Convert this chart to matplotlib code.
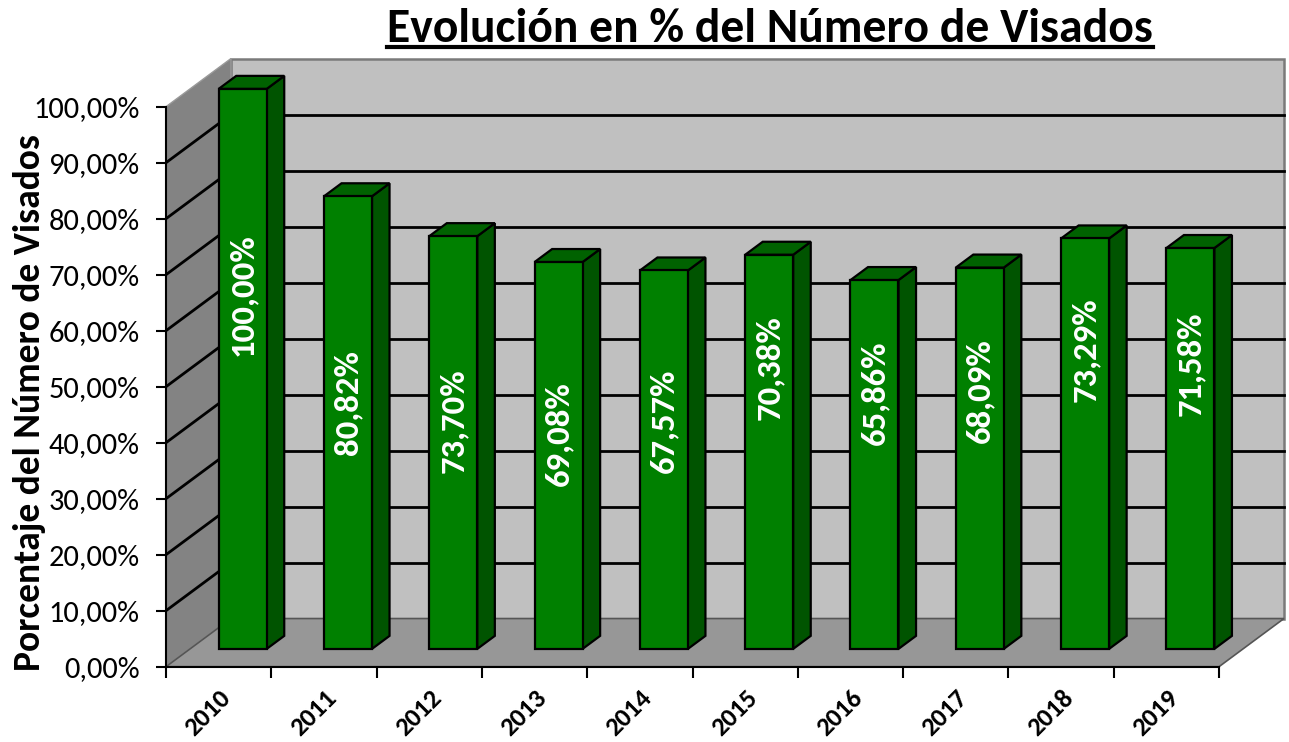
import matplotlib
matplotlib.use('Agg')
import matplotlib.pyplot as plt
from matplotlib.patches import Polygon
from matplotlib.lines import Line2D

# ---------------- data ----------------
years = ['2010', '2011', '2012', '2013', '2014', '2015', '2016', '2017', '2018', '2019']
values = [100.00, 80.82, 73.70, 69.08, 67.57, 70.38, 65.86, 68.09, 73.29, 71.58]
value_labels = ['100,00%', '80,82%', '73,70%', '69,08%', '67,57%',
                '70,38%', '65,86%', '68,09%', '73,29%', '71,58%']
yticks = [0, 10, 20, 30, 40, 50, 60, 70, 80, 90, 100]
ytick_labels = ['0,00%', '10,00%', '20,00%', '30,00%', '40,00%', '50,00%',
                '60,00%', '70,00%', '80,00%', '90,00%', '100,00%']
title = 'Evolución en % del Número de Visados'
ylabel = 'Porcentaje del Número de Visados'

# layout: centre of each value label, measured from bar base (percent units)
label_pos = [63.3, 43.9, 40.7, 38.4, 40.7, 50.2, 45.7, 46.2, 53.4, 50.9]

# ---------------- style ----------------
FONT = ['Carlito', 'Lato', 'DejaVu Sans']
BOLD = dict(fontweight='bold', fontstyle='normal', family=FONT)
C_FRONT = '#008000'
C_SIDE = '#005400'
C_TOP = '#006200'
C_BACK = '#C0C0C0'
C_WALL = '#838383'
C_FLOOR = '#979797'

W, H = 1289, 742
fig = plt.figure(figsize=(W / 100, H / 100), dpi=100)
px_x0, px_y0 = 166, 666.7
ppu_x, ppu_y = 105.3, 5.6
ax = fig.add_axes([px_x0 / W, (H - px_y0) / H, (W - px_x0) / W, 613 / H])
n = len(years)
ax.set_xlim(0, (W - px_x0) / ppu_x)
ax.set_ylim(0, 613 / ppu_y)
ax.set_facecolor('none')

DX, DY = 0.617, 8.6          # wall depth in data units
ytop = max(yticks)

# walls
back = Polygon([(DX, DY), (n + DX, DY), (n + DX, ytop + DY), (DX, ytop + DY)],
               closed=True, facecolor=C_BACK, edgecolor='#7a7a7a', lw=1.8, zorder=1)
side = Polygon([(0, 0), (DX, DY), (DX, ytop + DY), (0, ytop)],
               closed=True, facecolor=C_WALL, edgecolor='#9a9a9a', lw=1.0, zorder=1)
floor = Polygon([(0, 0), (n, 0), (n + DX, DY), (DX, DY)],
                closed=True, facecolor=C_FLOOR, edgecolor='#555555', lw=1.2, zorder=1)
for p in (back, side, floor):
    ax.add_patch(p)

for v in yticks[1:-1]:
    ax.add_line(Line2D([DX, n + DX], [v + DY, v + DY], color='black', lw=2.0, zorder=2))
    ax.add_line(Line2D([0, DX], [v, v + DY], color='black', lw=2.0, zorder=2))

# bars
f0x, f0y = 0.37 * DX, 0.37 * DY
dx, dy = 0.27 * DX, 0.27 * DY
bw = 0.456
for i, (v, lab, lp) in enumerate(zip(values, value_labels, label_pos)):
    x0 = i + (1 - bw) / 2 + f0x
    x1 = x0 + bw
    y0 = f0y
    y1 = f0y + v
    sideface = Polygon([(x1, y0), (x1 + dx, y0 + dy), (x1 + dx, y1 + dy), (x1, y1)],
                       closed=True, facecolor=C_SIDE, edgecolor='black', lw=1.6, zorder=3)
    topface = Polygon([(x0, y1), (x1, y1), (x1 + dx, y1 + dy), (x0 + dx, y1 + dy)],
                      closed=True, facecolor=C_TOP, edgecolor='black', lw=1.6, zorder=3)
    front = Polygon([(x0, y0), (x1, y0), (x1, y1), (x0, y1)],
                    closed=True, facecolor=C_FRONT, edgecolor='black', lw=1.6, zorder=4)
    for p in (sideface, topface, front):
        ax.add_patch(p)
    ax.text((x0 + x1) / 2, y0 + lp, lab, rotation=90, ha='center', va='center',
            color='white', fontsize=25, zorder=5, **BOLD)

# axes
for s in ('top', 'right'):
    ax.spines[s].set_visible(False)
ax.spines['left'].set_bounds(0, ytop)
ax.spines['bottom'].set_bounds(0, n)
ax.spines['left'].set_linewidth(1.5)
ax.spines['bottom'].set_linewidth(1.5)
ax.spines['left'].set_zorder(6)
ax.spines['bottom'].set_zorder(6)

ax.set_yticks(yticks)
ax.set_yticklabels(ytick_labels, fontsize=22, family=FONT)
ax.tick_params(axis='y', direction='out', length=7, width=1.5, pad=12)

ax.set_xticks(range(n + 1))
ax.set_xticklabels([])
ax.tick_params(axis='x', which='major', direction='out', length=8, width=1.5)
ax.set_xticks([i + 0.5 for i in range(n)], minor=True)
ax.set_xticklabels(years, minor=True, fontsize=19, rotation=45, ha='right', va='top',
                   rotation_mode='anchor', **BOLD)
ax.tick_params(axis='x', which='minor', length=0, pad=14)

fig.text(30 / W, 1 - 403 / H, ylabel, rotation=90, ha='center', va='center',
         fontsize=27, **BOLD)

t = fig.text(770 / W, 1 - 29 / H, title, ha='center', va='center',
             fontsize=34.3, **BOLD)
fig.canvas.draw()
bb = t.get_window_extent()
fig.add_artist(Line2D([bb.x0 / W, bb.x1 / W], [1 - 47 / H, 1 - 47 / H],
                      transform=fig.transFigure, color='black', lw=3))

fig.savefig('out.png', dpi=100)
